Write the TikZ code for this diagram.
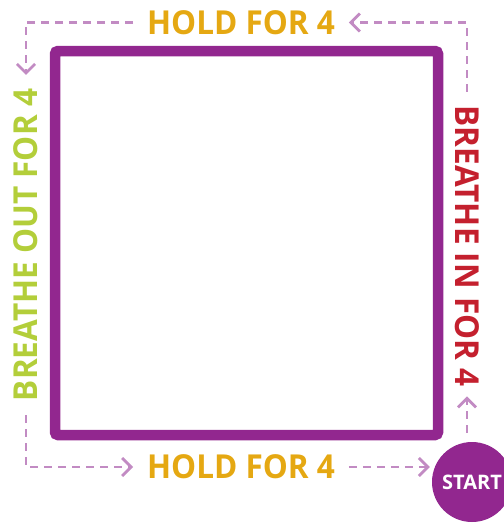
\documentclass[tikz,border=0pt]{standalone}
\usepackage{fontspec}
\setmainfont{Open Sans}
\newfontfamily\lblfont{Open Sans}[FakeStretch=0.955]
\usetikzlibrary{arrows.meta}
\definecolor{boxpurple}{HTML}{92278F}
\definecolor{dashlilac}{HTML}{C28BC3}
\definecolor{holdgold}{HTML}{E5A812}
\definecolor{outlime}{HTML}{B3CE3A}
\definecolor{inred}{HTML}{C4202E}
\tikzset{
  dl/.style={draw=dashlilac, line width=2.8pt, dash pattern=on 8pt off 6pt},
  tipp/.style={-{Straight Barb[length=9pt,width=18pt,line width=2.8pt]}},
  lbl/.style={font=\lblfont\bfseries\fontsize{33}{33}\selectfont, inner sep=0pt, outer sep=14pt},
}
\begin{document}
\begin{tikzpicture}[x=1pt,y=-1pt]
\useasboundingbox (0,0) rectangle (504,523);
\node[draw=boxpurple, line width=10.5pt, rounded corners=3pt, minimum width=383pt, minimum height=384pt, inner sep=0pt] (box) at (246.5,243) {};
\node[lbl, text=holdgold] (ht) at (241,22.5) {HOLD FOR 4};
\node[lbl, text=holdgold] (hb) at (241,467) {HOLD FOR 4};
\node[lbl, text=outlime, rotate=90] (bo) at (26,245) {BREATHE OUT FOR 4};
\node[lbl, text=inred, rotate=-90] (bi) at (467,246) {BREATHE IN FOR 4};
\node[circle, fill=boxpurple, minimum size=80pt, inner sep=0pt, text=white, font=\bfseries\fontsize{20}{20}\selectfont] (start) at (472,482) {START};
% connectors
\draw[dl, tipp] (bi) |- (ht);
\draw[dl, tipp] (ht) -| (bo);
\draw[dl, tipp] (bo) |- (hb);
\draw[dl, tipp, shorten >=2pt] (hb) -- (hb -| start.west);
\draw[dl, tipp, shorten <=9pt, shorten >=-4pt] (bi |- start.north) -- (bi);
\end{tikzpicture}
\end{document}
